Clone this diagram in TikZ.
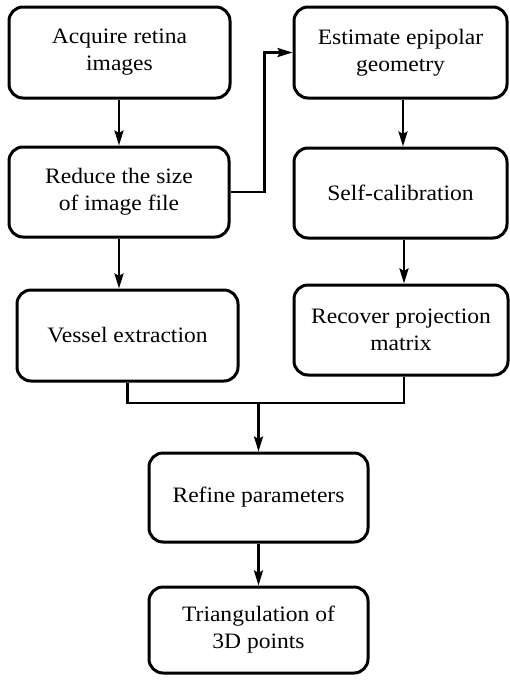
\documentclass[tikz,border=0pt]{standalone}
\usepackage{fontspec}
\setmainfont[FakeStretch=1.07]{Liberation Serif}
\usetikzlibrary{arrows.meta,calc}
\begin{document}
\begin{tikzpicture}[x=1pt,y=-1pt,
  box/.style={draw,line width=3pt,rounded corners=14pt,align=center,inner sep=0pt,
    font=\fontsize{22}{27}\selectfont},
  conn/.style={line width=2.6pt},
  arr/.style={conn,-{Stealth[length=15pt,width=9pt,inset=2.5pt]}}]
\useasboundingbox (0,0) rectangle (510,681);
\node[box,minimum width=221pt,minimum height=91pt] (acq) at (119.5,52.5) {Acquire retina\\images};
\node[box,minimum width=220pt,minimum height=90pt] (red) at (119,192) {Reduce the size\\of image file};
\node[box,minimum width=221pt,minimum height=91pt] (ves) at (127.5,335.5) {Vessel extraction};
\node[box,minimum width=213pt,minimum height=91pt] (est) at (400.5,52.5) {Estimate epipolar\\geometry};
\node[box,minimum width=213pt,minimum height=90pt] (self) at (400.5,193) {Self-calibration};
\node[box,minimum width=214pt,minimum height=90pt] (rec) at (401,330) {Recover projection\\matrix};
\node[box,minimum width=219pt,minimum height=89pt] (ref) at (258.5,497.5) {Refine parameters};
\node[box,minimum width=219pt,minimum height=86pt] (tri) at (258.5,630) {Triangulation of\\3D points};
\coordinate (j) at (ref.north |- 0,403);
\draw[arr] (acq.south -| 119,0) -- (red.north -| 119,0);
\draw[arr] (red.south -| 119,0) -- (ves.north -| 119,0);
\draw[arr] (red.east) -- ++(34,0) |- (est.west);
\draw[arr] (est.south -| 403,0) -- (self.north -| 403,0);
\draw[arr] (self.south -| 404,0) -- (rec.north -| 404,0);
\draw[conn] (ves.south) |- (j);
\draw[conn] (rec.south -| 404,0) |- (j);
\draw[arr] (j) -- (ref.north);
\draw[arr] (ref.south) -- (tri.north);
\end{tikzpicture}
\end{document}
